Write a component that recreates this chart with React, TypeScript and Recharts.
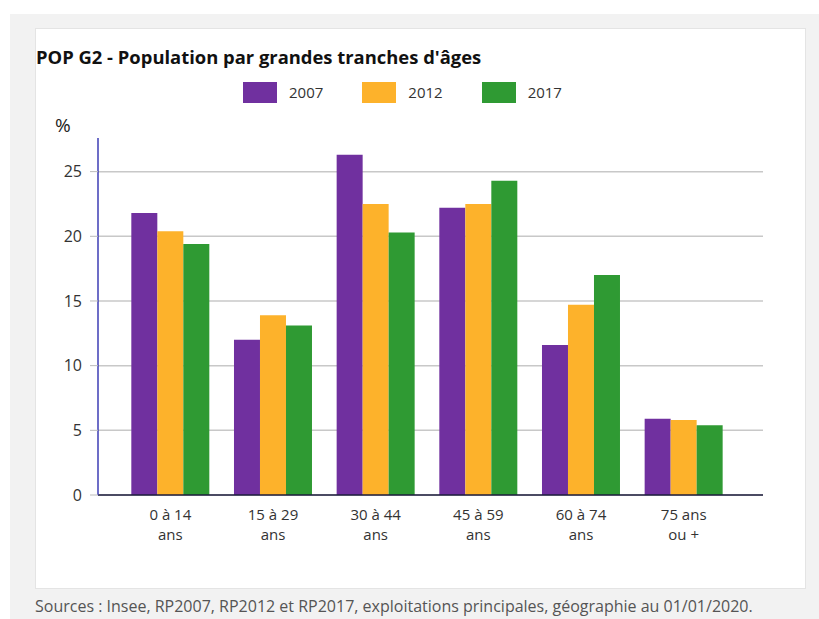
import React from "react";
import { BarChart, Bar, XAxis, YAxis, CartesianGrid, Legend } from "recharts";

const categories = ["0 à 14\nans", "15 à 29\nans", "30 à 44\nans", "45 à 59\nans", "60 à 74\nans", "75 ans\nou +"];
const values2007 = [21.8, 12.0, 26.3, 22.2, 11.6, 5.9];
const values2012 = [20.4, 13.9, 22.5, 22.5, 14.7, 5.8];
const values2017 = [19.4, 13.1, 20.3, 24.3, 17.0, 5.4];
const yTicks = [0, 5, 10, 15, 20, 25];
const seriesNames = ["2007", "2012", "2017"];
const title = "POP G2 - Population par grandes tranches d'âges";
const source = "Sources : Insee, RP2007, RP2012 et RP2017, exploitations principales, géographie au 01/01/2020.";

const colors = ["#70309f", "#fdb22b", "#2f9a33"];

const data = categories.map((c, i) => ({
  cat: c,
  [seriesNames[0]]: values2007[i],
  [seriesNames[1]]: values2012[i],
  [seriesNames[2]]: values2017[i],
}));

const FONT = "'Open Sans', sans-serif";

const XTick = (props: any) => {
  const { x, y, payload } = props;
  const lines = String(payload.value).split("\n");
  return (
    <g transform={`translate(${x},${y})`}>
      {lines.map((l: string, i: number) => (
        <text key={i} x={0} y={i * 20} dy={17} textAnchor="middle" fill="#333" fontSize={15} fontFamily={FONT}>
          {l}
        </text>
      ))}
    </g>
  );
};

const renderLegend = (props: any) => {
  const { payload } = props;
  return (
    <div style={{ display: "flex", alignItems: "center", height: 21 }}>
      {payload.map((p: any, i: number) => (
        <div key={i} style={{ display: "flex", alignItems: "center", marginRight: 39 }}>
          <div style={{ width: 34, height: 21, background: p.color, marginRight: 12 }} />
          <span style={{ fontFamily: FONT, fontSize: 15, color: "#333", lineHeight: "21px" }}>{p.value}</span>
        </div>
      ))}
    </div>
  );
};

export default function App() {
  return (
    <div style={{ position: "absolute", left: 0, top: 0, width: 819, height: 619, background: "#fff", overflow: "hidden" }}>
      <div style={{ position: "absolute", left: 10, top: 14, width: 809, height: 605, background: "#f2f2f2" }} />
      <div style={{ position: "absolute", left: 35, top: 28, width: 769, height: 559, background: "#fff", border: "1px solid #e4e4e4" }} />
      <div style={{ position: "absolute", left: 36, top: 44, fontFamily: FONT, fontWeight: 700, fontSize: 18.4, color: "#111", whiteSpace: "nowrap" }}>
        {title}
      </div>
      <div style={{ position: "absolute", left: 55, top: 112, fontFamily: FONT, fontSize: 19, color: "#222" }}>%</div>
      <div style={{ position: "absolute", left: 35, top: 595, fontFamily: FONT, fontSize: 16, color: "#555", whiteSpace: "nowrap" }}>
        {source}
      </div>
      <div style={{ position: "absolute", left: 0, top: 0 }}>
        <BarChart
          width={819}
          height={619}
          data={data}
          margin={{ top: 117, right: 56, bottom: 84, left: 38 }}
          barCategoryGap="12%"
          barGap={0}
        >
          <CartesianGrid vertical={false} stroke="#c8c8c8" strokeWidth={1.5} horizontalValues={yTicks} syncWithTicks />
          <XAxis
            dataKey="cat"
            height={40}
            interval={0}
            tick={<XTick />}
            tickLine={false}
            axisLine={{ stroke: "#1c1c3c", strokeWidth: 1.5 }}
            padding={{ left: 21, right: 28 }}
          />
          <YAxis
            width={60}
            domain={[0, 27.6]}
            ticks={yTicks}
            interval={0}
            tickSize={8}
            tickMargin={8}
            tickLine={{ stroke: "#bbb" }}
            axisLine={{ stroke: "#3c3cb4", strokeWidth: 1.5 }}
            tick={{ fill: "#333", fontSize: 16, fontFamily: FONT }}
          />
          <Legend
            verticalAlign="top"
            content={renderLegend}
            wrapperStyle={{ position: "absolute", top: 82, left: 243, width: 400, height: 21 }}
          />
          {seriesNames.map((s, i) => (
            <Bar key={s} dataKey={s} fill={colors[i]} isAnimationActive={false} />
          ))}
        </BarChart>
      </div>
    </div>
  );
}
